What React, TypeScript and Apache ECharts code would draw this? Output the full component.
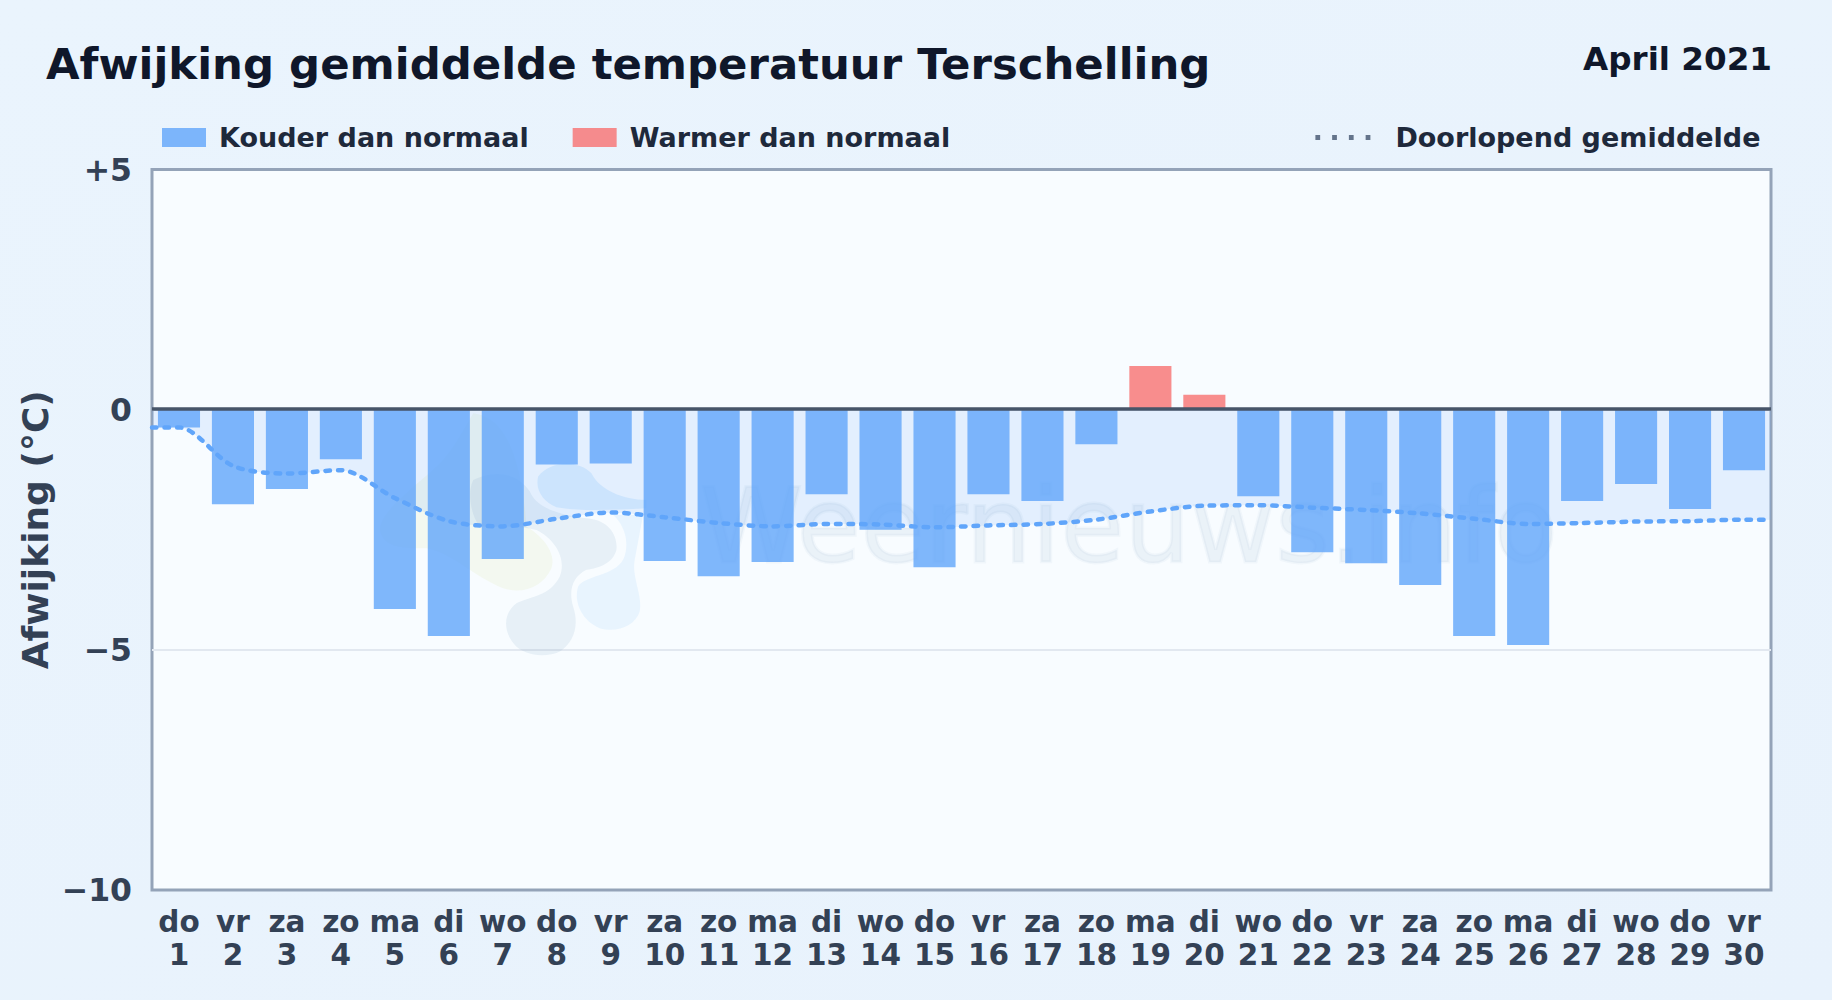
import React, { useEffect, useRef } from "react";
import * as echarts from "echarts";

const weekdays = ["do","vr","za","zo","ma","di","wo","do","vr","za","zo","ma","di","wo","do","vr","za","zo","ma","di","wo","do","vr","za","zo","ma","di","wo","do","vr"];
const days = ["1","2","3","4","5","6","7","8","9","10","11","12","13","14","15","16","17","18","19","20","21","22","23","24","25","26","27","28","29","30"];
const deviation = [-0.37,-1.97,-1.65,-1.03,-4.15,-4.71,-3.11,-1.14,-1.12,-3.15,-3.47,-3.17,-1.76,-2.5,-3.28,-1.76,-1.9,-0.72,0.91,0.31,-1.8,-2.97,-3.2,-3.65,-4.71,-4.9,-1.9,-1.55,-2.07,-1.26];
const runningMean = [-0.37,-1.17,-1.33,-1.26,-1.84,-2.32,-2.43,-2.27,-2.14,-2.24,-2.36,-2.43,-2.38,-2.39,-2.45,-2.41,-2.38,-2.29,-2.12,-2.0,-1.99,-2.04,-2.09,-2.16,-2.27,-2.38,-2.36,-2.33,-2.32,-2.29];
const yTicks: Record<string,string> = { "5": "+5", "0": "0", "-5": "\u22125", "-10": "\u221210" };

const FONT = "'DejaVu Sans', sans-serif";
const PL = 152, PR = 1771, PT = 169.5, PB = 890;

echarts.graphic.registerShape("wmGray", echarts.graphic.extendPath("M340 180C400 150 470 155 510 215C530 265 600 285 680 295C750 300 775 350 770 390C760 430 720 445 680 450C640 470 625 510 640 560C660 620 640 670 600 695C560 715 490 710 460 670C430 630 430 580 470 550C510 530 570 530 600 470C620 420 590 360 530 330C470 315 400 325 360 320C335 290 320 220 340 180Z", {}));
echarts.graphic.registerShape("wmYellow", echarts.graphic.extendPath("M340 -20C410 -10 480 50 500 320C550 350 590 400 575 445C550 500 490 525 430 505C340 470 280 400 200 385C130 385 70 385 60 330C60 270 180 190 240 130C280 90 310 30 340 -20Z", {}));
echarts.graphic.registerShape("wmBlue", echarts.graphic.extendPath("M655 500C680 465 760 470 790 420C810 380 800 320 760 285L850 285L825 420C815 470 850 530 840 575C825 620 770 640 720 625C670 605 640 550 655 500Z", {}));
echarts.graphic.registerShape("wmBlue2", echarts.graphic.extendPath("M535 170C570 120 660 120 695 160C720 210 790 240 860 240L860 265C760 270 660 275 590 262C550 245 525 210 535 170Z", {}));

export default function App() {
  const ref = useRef<HTMLDivElement>(null);
  useEffect(() => {
    const chart = echarts.init(ref.current!, undefined, { renderer: "svg" });
    const linePts: [number, number][] = [[0, runningMean[0]], ...runningMean.map((v, i) => [i + 0.5, v] as [number, number]), [30, runningMean[runningMean.length - 1]]];
    const wm = { x: 360, y: 420, scaleX: 1 / 3, scaleY: 1 / 3, z: 1, silent: true };
    chart.setOption({
      animation: false,
      backgroundColor: { type: "linear", x: 0, y: 0, x2: 1, y2: 1, colorStops: [{ offset: 0, color: "#eaf4fd" }, { offset: 1, color: "#e8f2fc" }] },
      textStyle: { fontFamily: FONT },
      grid: { left: PL, top: PT, width: PR - PL, height: PB - PT, show: true, backgroundColor: "#f8fcff", borderColor: "#94a3b8", borderWidth: 3, z: 0 },
      xAxis: [
        {
          type: "category", data: weekdays.map((d, i) => d + "\n" + days[i]), boundaryGap: true,
          axisTick: { show: false }, axisLine: { show: false },
          axisLabel: { interval: 0, fontSize: 29.5, fontWeight: "bold", color: "#334155", lineHeight: 33, margin: 15, fontFamily: FONT },
        },
        { type: "value", min: 0, max: 30, show: false },
      ],
      yAxis: {
        type: "value", min: -10, max: 5, interval: 5,
        name: "Afwijking (\u00b0C)", nameLocation: "middle", nameGap: 98.5, nameRotate: 90, nameMoveOverlap: false,
        nameTextStyle: { fontSize: 36, fontWeight: "bold", color: "#334155", fontFamily: FONT },
        axisLine: { show: false }, axisTick: { show: false },
        axisLabel: { fontSize: 31.5, fontWeight: "bold", color: "#334155", margin: 20, fontFamily: FONT, formatter: (v: number) => yTicks[String(v)] ?? String(v) },
        splitLine: { show: true, showMinLine: false, showMaxLine: false, lineStyle: { color: "#e2e8f0", width: 2 } },
      },
      legend: [
        {
          left: 157, top: 119, itemWidth: 44, itemHeight: 19, itemGap: 44, icon: "rect",
          data: ["Kouder dan normaal", "Warmer dan normaal"],
          textStyle: { fontSize: 27, fontWeight: "bold", color: "#1e293b", fontFamily: FONT, padding: [0, 0, 0, 8] },
        },
        {
          right: 66.5, top: 119, itemWidth: 55, itemHeight: 5, itemGap: 0,
          data: [{ name: "Doorlopend gemiddelde", icon: "path://M0 0h5v5H0zM17.6 0h5v5h-5zM35.2 0h5v5h-5zM52.8 0h5v5h-5z", itemStyle: { color: "#64748b", opacity: 1 } }],
          textStyle: { fontSize: 27, fontWeight: "bold", color: "#1e293b", fontFamily: FONT, padding: [0, 0, 0, 20] },
        },
      ],
      graphic: [
        { type: "text", left: 46, top: 42, style: { text: "Afwijking gemiddelde temperatuur Terschelling", font: `bold 43.4px ${FONT}`, fill: "#0f172a" } },
        { type: "text", right: 60, top: 42, style: { text: "April 2021", font: `bold 32.6px ${FONT}`, fill: "#0f172a" } },
        { type: "wmYellow", ...wm, style: { fill: "rgba(210,225,130,0.12)" } },
        { type: "wmBlue", ...wm, style: { fill: "rgba(120,190,250,0.12)" } },
        { type: "wmBlue2", ...wm, style: { fill: "rgba(120,190,250,0.2)" } },
        { type: "wmGray", ...wm, style: { fill: "rgba(100,150,180,0.11)" } },
        { type: "text", x: 700, y: 474, z: 1, silent: true, style: { text: "Weernieuws.info", font: `104px ${FONT}`, fill: "rgba(100,140,180,0.09)", stroke: "rgba(100,140,180,0.05)", lineWidth: 3 } },
      ],
      series: [
        {
          name: "Doorlopend gemiddelde area", type: "line", xAxisIndex: 1, smooth: 0.3, symbol: "none", z: 1.5,
          data: linePts, lineStyle: { width: 0 }, areaStyle: { color: "rgba(96,165,250,0.2)", origin: 0 }, legendHoverLink: false,
        },
        {
          name: "Kouder dan normaal", type: "bar", stack: "d", barWidth: "78%", z: 2,
          itemStyle: { color: "rgba(96,165,250,0.8)" },
          data: deviation.map(v => (v < 0 ? v : null)),
        },
        {
          name: "Warmer dan normaal", type: "bar", stack: "d", barWidth: "78%", z: 2,
          itemStyle: { color: "rgba(248,113,113,0.8)" },
          data: deviation.map(v => (v >= 0 ? v : null)),
          markLine: { silent: true, symbol: "none", label: { show: false }, data: [{ yAxis: 0.02 }], lineStyle: { color: "#475569", width: 3.5, type: "solid" }, z: 4 },
        },
        {
          name: "Doorlopend gemiddelde", type: "line", xAxisIndex: 1, smooth: 0.3, symbol: "none", z: 5,
          data: linePts, lineStyle: { color: "#60a5fa", width: 4.5, type: [4.5, 8], cap: "round" },
        },
      ],
    });
    return () => chart.dispose();
  }, []);
  return <div ref={ref} style={{ position: "absolute", left: 0, top: 0, width: 1832, height: 1000 }} />;
}
